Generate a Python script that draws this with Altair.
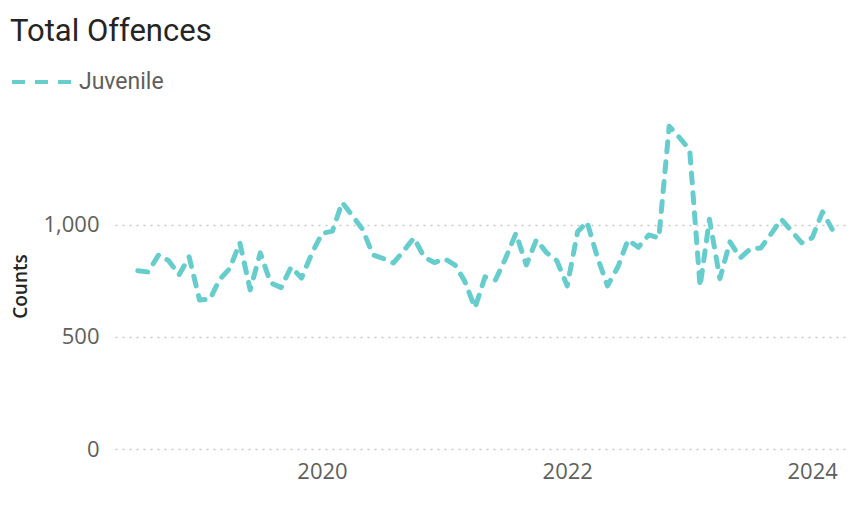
import altair as alt
import pandas as pd

# ---- data ----
start_month = "2018-07-01"
n_months = 69
juvenile_counts = [
    795, 790, 866, 840, 777, 857, 665, 668, 755, 805,
    920, 710, 875, 741, 720, 812, 763, 870, 962, 972,
    1100, 1040, 980, 866, 850, 830, 885, 942, 855, 832,
    848, 820, 750, 630, 768, 754, 850, 962, 821, 933,
    875, 840, 728, 969, 1013, 855, 728, 812, 933, 900,
    955, 942, 1440, 1390, 1335, 725, 1025, 760, 924, 853,
    893, 897, 960, 1025, 972, 920, 942, 1058, 980,
]
series_name = "Juvenile"
year_ticks = [2020, 2022, 2024]
y_ticks = [0, 500, 1000]

months = pd.date_range(start_month, periods=n_months, freq="MS").strftime("%Y-%m-%d")
df = pd.DataFrame({"month": months, "count": juvenile_counts, "series": series_name})

line_color = "#66CCCC"
label_gray = "#605E5C"
dark = "#252423"

chart = (
    alt.Chart(df)
    .mark_line(strokeWidth=5, strokeDash=[10, 10], strokeCap="round", strokeJoin="round")
    .encode(
        x=alt.X(
            "month:T",
            scale=alt.Scale(
                type="utc",
                domain=[
                    alt.DateTime(year=2018, month=4, date=24, utc=True),
                    alt.DateTime(year=2024, month=4, date=8, utc=True),
                ],
            ),
            axis=alt.Axis(
                title=None,
                values=[alt.DateTime(year=y, month=1, date=1, utc=True) for y in year_ticks],
                format="%Y",
                formatType="utc",
                grid=False,
                domain=False,
                ticks=False,
                labelPadding=12,
                labelFont="Open Sans",
                labelFontSize=22,
                labelColor=label_gray,
            ),
        ),
        y=alt.Y(
            "count:Q",
            scale=alt.Scale(domain=[0, 1450], nice=False),
            axis=alt.Axis(
                title="Counts",
                values=y_ticks,
                format=",.0f",
                grid=True,
                gridDash=[2, 5],
                gridColor="#C8C8C8",
                gridWidth=1.6,
                domain=False,
                ticks=False,
                labelPadding=16,
                labelFont="Open Sans",
                labelFontSize=22,
                labelColor=label_gray,
                titleFont="Open Sans",
                titleFontSize=19,
                titleFontWeight=600,
                titleColor=dark,
                titleX=-95,
                titleY=162,
                titleAngle=-90,
                titleBaseline="middle",
                titleAlign="center",
            ),
        ),
        color=alt.Color(
            "series:N",
            scale=alt.Scale(range=[line_color]),
            legend=alt.Legend(
                title=None,
                orient="none",
                legendX=-105,
                legendY=-74,
                symbolType="stroke",
                symbolSize=3600,
                symbolStrokeWidth=4,
                symbolDash=[13, 10],
                symbolStrokeColor=line_color,
                labelFont="Roboto",
                labelFontSize=23,
                labelColor=label_gray,
                labelOffset=5,
                padding=0,
            ),
        ),
    )
    .properties(
        width=730,
        height=325,
        autosize=alt.AutoSizeParams(type="none"),
        padding={"left": 107, "top": 116, "right": 6, "bottom": 40},
        title=alt.TitleParams(
            text="Total Offences",
            anchor="start",
            frame="group",
            font="Roboto",
            fontSize=31,
            fontWeight="normal",
            color=dark,
            baseline="alphabetic",
            dx=-105,
            dy=34,
            offset=12,
        ),
    )
    .configure_view(stroke=None)
)

chart.save("out.html", embed_options={"renderer": "svg", "actions": False})
